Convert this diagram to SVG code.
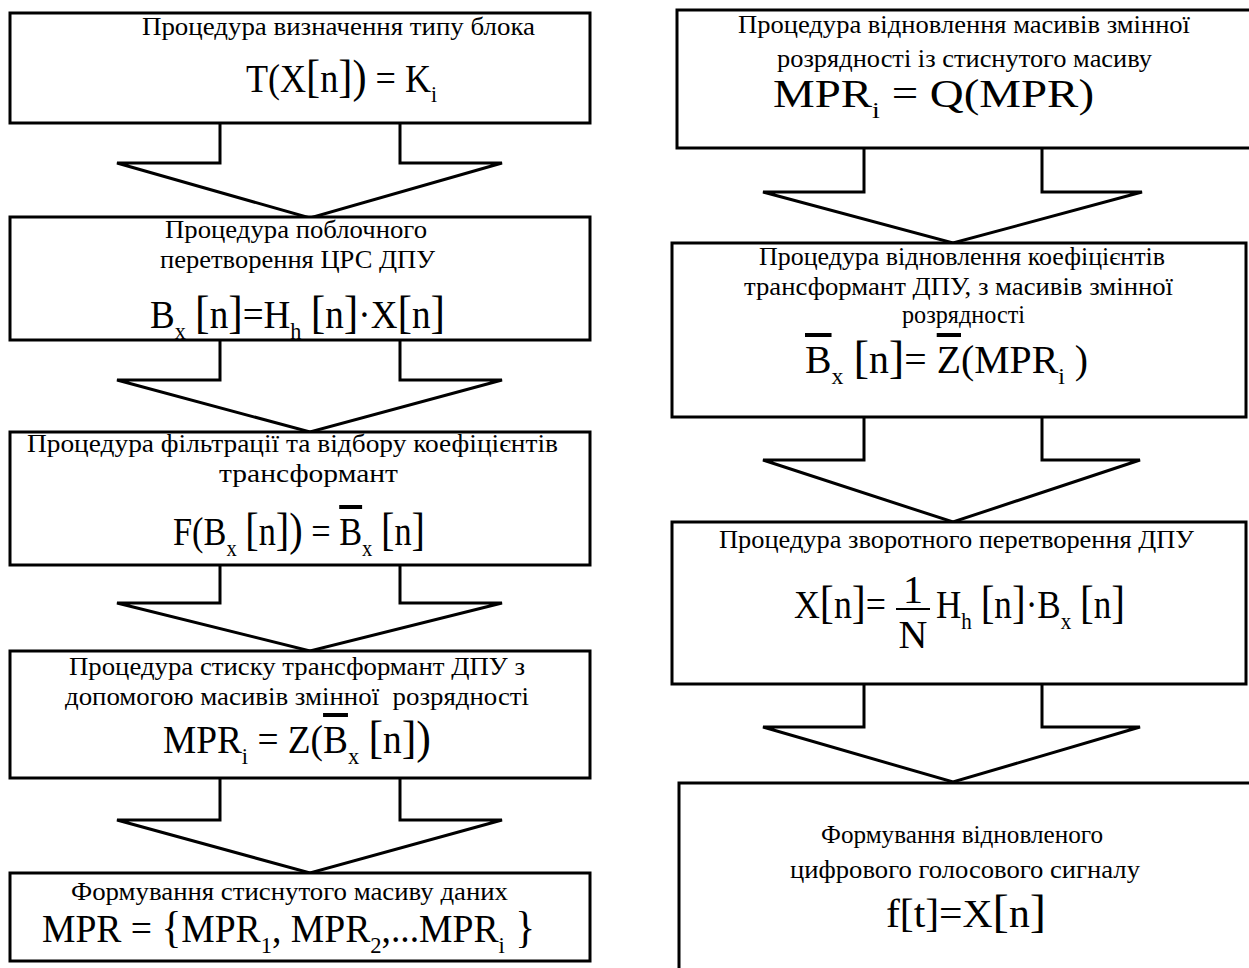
<svg xmlns="http://www.w3.org/2000/svg" width="1249" height="968" viewBox="0 0 1249 968">
<style>
.box{fill:#fff;stroke:#000;stroke-width:3}
.arr{fill:#fff;stroke:#000;stroke-width:3;stroke-linejoin:miter}
.t{font-family:"Liberation Serif","Times New Roman",serif;font-size:26px;fill:#000}
.fs{font-family:"Liberation Serif","Times New Roman",serif;font-size:40px;fill:#000}
.fc{font-family:"Liberation Serif","Times New Roman",serif;font-size:40px;fill:#000;text-anchor:middle}
.s{font-size:24px}
.b{font-size:47px}
.c{font-size:44px}
.ob{text-decoration:overline}
</style>
<rect width="1249" height="968" fill="#fff"/>
<g id="connectors">
<path class="arr" d="M220,123 V163 H117 L310,218 L502,163 H400 V123"/>
<path class="arr" d="M220,340 V380 H117 L310,432 L502,380 H400 V340"/>
<path class="arr" d="M220,565 V603 H117 L310,651 L502,603 H400 V565"/>
<path class="arr" d="M220,778 V820 H117 L310,873 L502,820 H400 V778"/>
<path class="arr" d="M864,148 V192 H763 L953,243 L1142,192 H1042 V148"/>
<path class="arr" d="M864,417 V460 H763 L953,522 L1140,460 H1042 V417"/>
<path class="arr" d="M864,684 V727 H763 L953,782 L1140,727 H1042 V684"/>
</g>
<g id="n1">
<rect class="box" x="10" y="13" width="580" height="110"/>
<text class="t" x="142" y="35" textLength="393" lengthAdjust="spacingAndGlyphs">Процедура визначення типу блока</text>
<text class="fs" x="246" y="92" textLength="191" lengthAdjust="spacingAndGlyphs">T(X<tspan class="b">[</tspan>n<tspan class="b">])</tspan> = K<tspan class="s" dy="10">i</tspan></text>
</g>
<g id="n2">
<rect class="box" x="10" y="217" width="580" height="123"/>
<text class="t" x="165" y="238" textLength="262" lengthAdjust="spacingAndGlyphs">Процедура поблочного</text>
<text class="t" x="160" y="268" textLength="275" lengthAdjust="spacingAndGlyphs">перетворення ЦРС ДПУ</text>
<text class="fs" x="150" y="328" textLength="295" lengthAdjust="spacingAndGlyphs">B<tspan class="s" dy="11">x</tspan><tspan dy="-11"> </tspan><tspan class="b">[</tspan>n<tspan class="b">]</tspan>=H<tspan class="s" dy="11">h</tspan><tspan dy="-11"> </tspan><tspan class="b">[</tspan>n<tspan class="b">]</tspan>·X<tspan class="b">[</tspan>n<tspan class="b">]</tspan></text>
</g>
<g id="n3">
<rect class="box" x="10" y="432" width="580" height="133"/>
<text class="t" x="27" y="452" textLength="531" lengthAdjust="spacingAndGlyphs">Процедура фільтрації та відбору коефіцієнтів</text>
<text class="t" x="219" y="482" textLength="179" lengthAdjust="spacingAndGlyphs">трансформант</text>
<text class="fs" x="173" y="545" textLength="252" lengthAdjust="spacingAndGlyphs">F(B<tspan class="s" dy="11">x</tspan><tspan dy="-11"> </tspan><tspan class="b">[</tspan>n<tspan class="b">])</tspan> = <tspan class="ob">B</tspan><tspan class="s" dy="11">x</tspan><tspan dy="-11"> </tspan><tspan class="b">[</tspan>n<tspan class="b">]</tspan></text>
</g>
<g id="n4">
<rect class="box" x="10" y="651" width="580" height="127"/>
<text class="t" x="69" y="675" textLength="456" lengthAdjust="spacingAndGlyphs">Процедура стиску трансформант ДПУ з</text>
<text class="t" x="65" y="705" textLength="464" lengthAdjust="spacingAndGlyphs" xml:space="preserve">допомогою масивів змінної  розрядності</text>
<text class="fs" x="163" y="753" textLength="268" lengthAdjust="spacingAndGlyphs">MPR<tspan class="s" dy="11">i</tspan><tspan dy="-11"> = Z(</tspan><tspan class="ob">B</tspan><tspan class="s" dy="11">x</tspan><tspan dy="-11"> </tspan><tspan class="b">[</tspan>n<tspan class="b">])</tspan></text>
</g>
<g id="n5">
<rect class="box" x="10" y="873" width="580" height="88"/>
<text class="t" x="71" y="900" textLength="437" lengthAdjust="spacingAndGlyphs">Формування стиснутого масиву даних</text>
<text class="fs" x="42" y="942" textLength="493" lengthAdjust="spacingAndGlyphs">MPR = <tspan class="c">{</tspan>MPR<tspan class="s" dy="11">1</tspan><tspan dy="-11">, MPR</tspan><tspan class="s" dy="11">2</tspan><tspan dy="-11">,...MPR</tspan><tspan class="s" dy="11">i</tspan><tspan dy="-11" class="c"> }</tspan></text>
</g>
<g id="r1">
<rect class="box" x="677" y="10" width="580" height="138"/>
<text class="t" x="738" y="33" textLength="452" lengthAdjust="spacingAndGlyphs">Процедура відновлення масивів змінної</text>
<text class="t" x="777" y="67" textLength="375" lengthAdjust="spacingAndGlyphs">розрядності із стиснутого масиву</text>
<text class="fs" x="773" y="107" textLength="321" lengthAdjust="spacingAndGlyphs">MPR<tspan class="s" dy="11">i</tspan><tspan dy="-11"> = Q(MPR)</tspan></text>
</g>
<g id="r2">
<rect class="box" x="672" y="243" width="574" height="174"/>
<text class="t" x="759" y="265" textLength="406" lengthAdjust="spacingAndGlyphs">Процедура відновлення коефіцієнтів</text>
<text class="t" x="744" y="295" textLength="429" lengthAdjust="spacingAndGlyphs">трансформант ДПУ, з масивів змінної</text>
<text class="t" x="902" y="323" textLength="123" lengthAdjust="spacingAndGlyphs">розрядності</text>
<text class="fs" x="805" y="373" textLength="283" lengthAdjust="spacingAndGlyphs"><tspan class="ob">B</tspan><tspan class="s" dy="11">x</tspan><tspan dy="-11"> </tspan><tspan class="b">[</tspan>n<tspan class="b">]</tspan>= <tspan class="ob">Z</tspan>(MPR<tspan class="s" dy="11">i</tspan><tspan dy="-11"> )</tspan></text>
</g>
<g id="r3">
<rect class="box" x="672" y="522" width="574" height="162"/>
<text class="t" x="719" y="548" textLength="475" lengthAdjust="spacingAndGlyphs">Процедура зворотного перетворення ДПУ</text>
<text class="fs" x="794" y="618" textLength="92" lengthAdjust="spacingAndGlyphs">X<tspan class="b">[</tspan>n<tspan class="b">]</tspan>=</text>
<text class="fc" x="913" y="603">1</text>
<line x1="896" y1="609" x2="930" y2="609" stroke="#000" stroke-width="2"/>
<text class="fc" x="913" y="648">N</text>
<text class="fs" x="936" y="618" textLength="189" lengthAdjust="spacingAndGlyphs">H<tspan class="s" dy="11">h</tspan><tspan dy="-11"> </tspan><tspan class="b">[</tspan>n<tspan class="b">]</tspan>·B<tspan class="s" dy="11">x</tspan><tspan dy="-11"> </tspan><tspan class="b">[</tspan>n<tspan class="b">]</tspan></text>
</g>
<g id="r4">
<rect class="box" x="679" y="783" width="580" height="200"/>
<text class="t" x="821" y="843" textLength="282" lengthAdjust="spacingAndGlyphs">Формування відновленого</text>
<text class="t" x="790" y="878" textLength="350" lengthAdjust="spacingAndGlyphs">цифрового голосового сигналу</text>
<text class="fs" x="886" y="927" textLength="160" lengthAdjust="spacingAndGlyphs">f[t]=X<tspan class="b">[</tspan>n<tspan class="b">]</tspan></text>
</g>
</svg>
